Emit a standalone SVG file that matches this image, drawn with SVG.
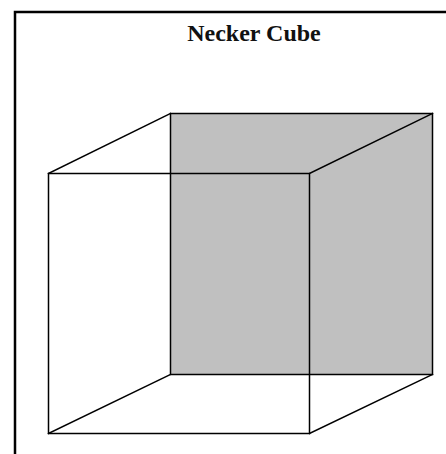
<svg xmlns="http://www.w3.org/2000/svg" width="446" height="454" viewBox="0 0 446 454">
<style>
.edge{stroke:#000;stroke-width:1.5;fill:none;stroke-linecap:square}
.title{font-family:"Liberation Serif",serif;font-weight:bold;font-size:24px;fill:#111}
</style>
<rect x="0" y="0" width="446" height="454" fill="#fff"/>
<rect x="15" y="12" width="460" height="470" fill="none" stroke="#000" stroke-width="2.5"/>
<text class="title" x="254" y="41" text-anchor="middle">Necker Cube</text>
<g id="back-face">
<rect x="170.5" y="113.5" width="262" height="261" fill="#c0c0c0" class="edge" style="fill:#c0c0c0"/>
</g>
<g id="front-face">
<rect x="48.5" y="173.5" width="261" height="260" class="edge"/>
</g>
<g id="connectors">
<line class="edge" x1="48.5" y1="173.5" x2="170.5" y2="113.5"/>
<line class="edge" x1="309.5" y1="173.5" x2="432.5" y2="113.5"/>
<line class="edge" x1="48.5" y1="433.5" x2="170.5" y2="374.5"/>
<line class="edge" x1="309.5" y1="433.5" x2="432.5" y2="374.5"/>
</g>
</svg>
